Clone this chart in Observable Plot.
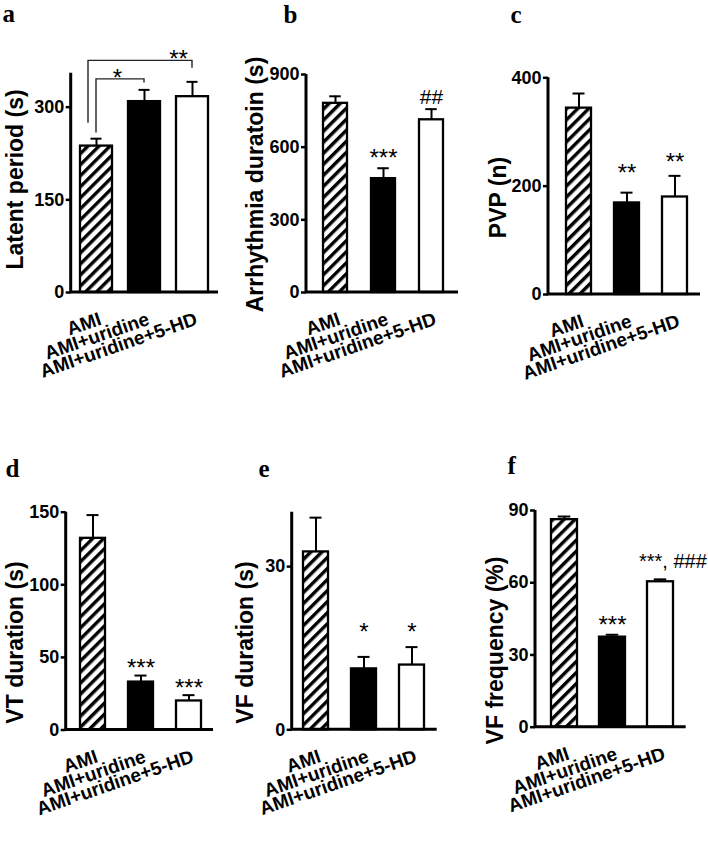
<!DOCTYPE html>
<html><head><meta charset="utf-8">
<script src="https://cdn.jsdelivr.net/npm/d3@7"></script>
<script src="https://cdn.jsdelivr.net/npm/@observablehq/plot@0.6"></script>
<style>
html,body{margin:0;padding:0;background:#fff;}
#fig{position:relative;width:708px;height:849px;overflow:hidden;background:#fff;}
#fig svg{position:absolute;left:0;top:0;}
</style></head><body><div id="fig"></div>
<script>
// ---------- data ----------
const groups = ["AMI", "AMI+uridine", "AMI+uridine+5-HD"];
const panelLetters = ["a", "b", "c", "d", "e", "f"];
const yTitles = ["Latent period (s)", "Arrhythmia duratoin (s)", "PVP (n)", "VT duration (s)", "VF duration (s)", "VF frequency (%)"];
const yTicks = [[0, 150, 300], [0, 300, 600, 900], [0, 200, 400], [0, 50, 100, 150], [0, 30], [0, 30, 60, 90]];
const yMax = [355, 900, 400, 150, 40, 90];
const means = [[237, 309, 317], [781, 470, 713], [344, 169, 180], [132, 33, 20], [32.7, 11.2, 11.9], [86.2, 37.4, 60.4]];
const sems = [[12, 19, 24], [29, 43, 44], [27, 19, 39], [16, 4.5, 4], [6.3, 2.2, 3.3], [1.3, 1.0, 1.0]];
const brackets = [
  {from: "AMI", to: "AMI+uridine", label: "*", level: 345, leftEnd: 258, rightEnd: 339},
  {from: "AMI", to: "AMI+uridine+5-HD", label: "**", level: 375, leftEnd: 274, rightEnd: 363}
];
const sigLabels = [
  {panel: 1, group: "AMI+uridine", label: "***"},
  {panel: 1, group: "AMI+uridine+5-HD", label: "##"},
  {panel: 2, group: "AMI+uridine", label: "**"},
  {panel: 2, group: "AMI+uridine+5-HD", label: "**"},
  {panel: 3, group: "AMI+uridine", label: "***"},
  {panel: 3, group: "AMI+uridine+5-HD", label: "***"},
  {panel: 4, group: "AMI+uridine", label: "*"},
  {panel: 4, group: "AMI+uridine+5-HD", label: "*"},
  {panel: 5, group: "AMI+uridine", label: "***"},
  {panel: 5, group: "AMI+uridine+5-HD", label: "***, ###"}
];

// ---------- layout / styles ----------
const W = 708, H = 849;
const layout = [
  {left: 70.7, right: 218, top: 72.7, bottom: 292, c0: 95.4, step: 48.85, bw: 33, tdx: -56, tdy: -3.4, tlen: 222, lx: 2, ly: 22},
  {left: 306, right: 458, top: 74, bottom: 292, c0: 335, step: 48.3, bw: 24.5, tdx: -51, tdy: 1, tlen: 262, lx: 283, ly: 22},
  {left: 548, right: 700, top: 77.3, bottom: 294, c0: 577.5, step: 48.5, bw: 25, tdx: -50, tdy: 11.3, tlen: 73, lx: 510, ly: 22},
  {left: 65.7, right: 213, top: 511.7, bottom: 729.5, c0: 91.5, step: 48.4, bw: 25, tdx: -50.7, tdy: 21.4, tlen: 222, lx: 5, ly: 476},
  {left: 291.7, right: 436.7, top: 511.7, bottom: 729.3, c0: 315.2, step: 48.2, bw: 25, tdx: -46.7, tdy: 21.5, tlen: 222, lx: 258, ly: 476},
  {left: 535, right: 685.7, top: 510, bottom: 726.7, c0: 563.5, step: 48, bw: 25.5, tdx: -40, tdy: 31.6, tlen: 255, lx: 507, ly: 473}
];
const bracketStyle = [{leftDx: 0, dx: -27, dy: 6.8}, {leftDx: -8, dx: -14, dy: 5.8}];
const sigStyle = [
  {dy: -2.2}, {dy: -5.3, fontSize: 21},
  {dy: -11.8}, {dy: -6.2},
  {dy: 0.5}, {dy: 0.8},
  {dy: -16.9}, {dy: -6.9},
  {dy: -2.2}, {dy: -11, dx: -21.5, fontSize: 20, textAnchor: "start"}
];
const sansFont = "'Liberation Sans', Arial, Helvetica, sans-serif";
const serifFont = "'Liberation Serif', 'Times New Roman', serif";

const fig = document.getElementById("fig");

function hatchDefs(id) {
  return () => {
    const defs = d3.create("svg:defs");
    const p = defs.append("pattern").attr("id", id).attr("patternUnits", "userSpaceOnUse")
      .attr("width", 7.8).attr("height", 7.8).attr("patternTransform", "rotate(45)");
    p.append("rect").attr("width", 7.8).attr("height", 7.8).attr("fill", "white");
    p.append("rect").attr("width", 3.4).attr("height", 7.8).attr("fill", "black");
    return defs.node();
  };
}

function axisLines(index, scales, values, dims) {
  const {width, height, marginLeft, marginRight, marginTop, marginBottom} = dims;
  const g = d3.create("svg:g").attr("stroke", "black").attr("stroke-width", 3).attr("fill", "none");
  g.append("path").attr("d", `M${marginLeft},${marginTop}V${height - marginBottom}H${width - marginRight}`);
  return g.node();
}

function bracketMark(index, scales) {
  const g = d3.create("svg:g").attr("fill", "none").attr("stroke", "#222").attr("stroke-width", 1.4);
  const half = scales.x.bandwidth ? scales.x.bandwidth() / 2 : 0;
  brackets.forEach((b, i) => {
    const xl = scales.x(b.from) + half + bracketStyle[i].leftDx;
    const xr = scales.x(b.to) + half;
    g.append("path").attr("d", `M${xl},${scales.y(b.leftEnd)}V${scales.y(b.level)}H${xr}V${scales.y(b.rightEnd)}`);
  });
  return g.node();
}

layout.forEach((L, i) => {
  const data = groups.map((g, j) => ({group: g, mean: means[i][j], sem: sems[i][j]}));
  const hatchId = `hatch${i}`;
  const fills = {"AMI": `url(#${hatchId})`, "AMI+uridine": "black", "AMI+uridine+5-HD": "white"};
  const pi = 1 - L.bw / L.step;
  const capInset = (L.bw - 12) / 2;
  const marks = [
    hatchDefs(hatchId),
    Plot.barY(data, {x: "group", y: "mean", fill: d => fills[d.group], stroke: "black", strokeWidth: 2.3}),
    Plot.ruleX(data, {x: "group", y1: "mean", y2: d => d.mean + d.sem, stroke: "black", strokeWidth: 2}),
    Plot.tickY(data, {x: "group", y: d => d.mean + d.sem, stroke: "black", strokeWidth: 2, insetLeft: capInset, insetRight: capInset}),
    axisLines,
    Plot.axisY({ticks: yTicks[i], tickSize: 5, tickPadding: 2, strokeWidth: 2.5, fontSize: 18, fontWeight: "bold", label: null, tickFormat: d => String(d)}),
    Plot.text(groups, {x: d => d, y: 0, rotate: -19, textAnchor: "end", lineAnchor: "middle", dx: 4, dy: 26, fontSize: 19, fontWeight: "bold"}),
    Plot.text([yTitles[i]], {frameAnchor: "left", rotate: -90, textAnchor: "middle", lineAnchor: "middle", dx: L.tdx, dy: L.tdy, fontSize: 23, fontWeight: "bold", ariaLabel: "ytitle"}),
    Plot.text([panelLetters[i]], {frameAnchor: "top-left", textAnchor: "start", lineAnchor: "bottom", dx: L.lx - L.left, dy: L.ly - L.top, fontFamily: serifFont, fontSize: 25, fontWeight: "bold"})
  ];
  if (i === 0) {
    marks.push(bracketMark);
    brackets.forEach((b, k) => {
      marks.push(Plot.text([b], {x: "to", y: "level", text: "label", textAnchor: "middle", lineAnchor: "bottom",
        dx: bracketStyle[k].dx, dy: bracketStyle[k].dy, fontSize: 24, fontWeight: "normal"}));
    });
  }
  sigLabels.forEach((s, k) => {
    if (s.panel !== i) return;
    const st = sigStyle[k];
    const d = data.find(r => r.group === s.group);
    marks.push(Plot.text([{group: s.group, top: d.mean + d.sem, label: s.label}], {
      x: "group", y: "top", text: "label", textAnchor: st.textAnchor || "middle", lineAnchor: "bottom",
      dx: st.dx || 0, dy: st.dy, fontSize: st.fontSize || 24, fontWeight: "normal"
    }));
  });

  const svg = Plot.plot({
    width: W, height: H,
    marginLeft: L.left, marginRight: W - L.right, marginTop: L.top, marginBottom: H - L.bottom,
    x: {type: "band", domain: groups, range: [L.c0 - L.step / 2, L.c0 + 2.5 * L.step], paddingInner: pi, paddingOuter: pi / 2, align: 0.5, axis: null},
    y: {domain: [0, yMax[i]]},
    color: {type: "identity"},
    style: {position: "absolute", left: "0px", top: "0px", fontFamily: sansFont, fontWeight: "bold", fontSize: "17px", background: "transparent", overflow: "visible", color: "black"},
    marks
  });
  d3.select(svg).selectAll('g[aria-label="ytitle"] text').attr("textLength", L.tlen).attr("lengthAdjust", "spacingAndGlyphs");
  fig.appendChild(svg);
});
</script></body></html>
